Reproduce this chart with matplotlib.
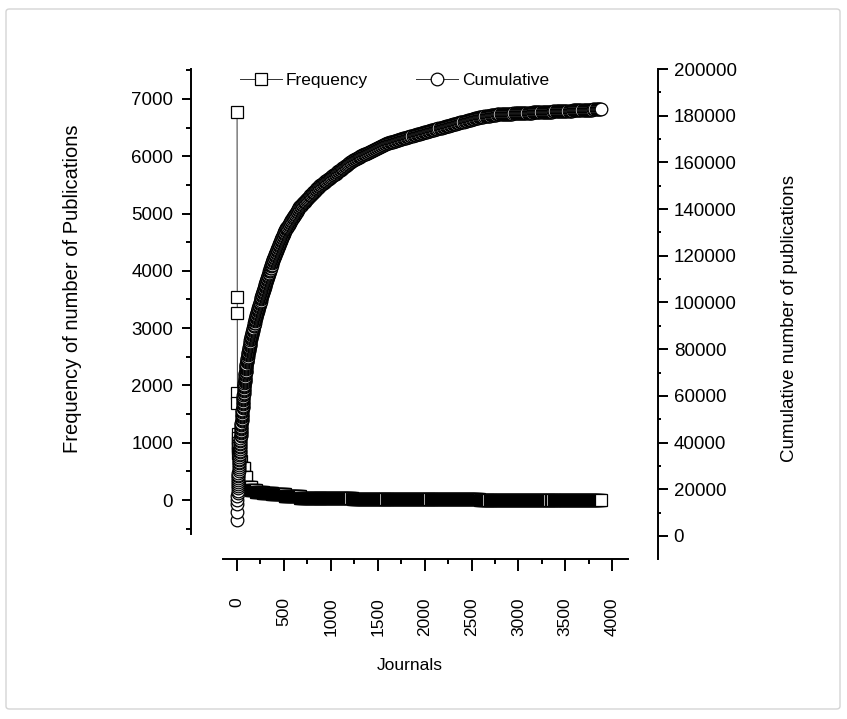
import numpy as np
import matplotlib
matplotlib.use('Agg')
import matplotlib.pyplot as plt
from matplotlib.ticker import MultipleLocator
from matplotlib.patches import FancyBboxPatch

plt.rcParams['font.family'] = ['Liberation Sans', 'DejaVu Sans']

# frequencies of the top journals, one value each
head_freq = [6780, 3550, 3260, 1860, 1700, 1150, 1080, 1000, 950, 900]
# rest of the ranking as (frequency level, number of journals at that level)
level_freq = [820, 680, 560, 400, 230, 170, 140, 130, 100, 65, 42, 31, 20, 12, 11, 6, 2]
level_counts = [10, 20, 35, 25, 50, 50, 80, 95, 135, 160, 213, 351, 362, 351, 638, 215, 1083]

frequency = np.concatenate([head_freq, np.repeat(level_freq, level_counts)])
journals = np.arange(1, len(frequency) + 1)
cumulative = np.cumsum(frequency)

W, H = 847, 719
fig = plt.figure(figsize=(W / 100, H / 100), dpi=100)


def box(x0, y0, x1, y1):
    return [x0 / W, 1 - y1 / H, (x1 - x0) / W, (y1 - y0) / H]


# light frame round the picture
fig.patches.append(FancyBboxPatch((6 / W, 10 / H), 834 / W, 700 / H,
                                  boxstyle='round,pad=0,rounding_size=0.004',
                                  transform=fig.transFigure, fill=False,
                                  edgecolor='#d4d4d4', linewidth=1))

ax_l = fig.add_axes(box(223, 69, 628, 534))
ax_r = fig.add_axes(box(223, 69, 628, 559), sharex=ax_l)
ax_r.patch.set_visible(False)

# symbols spaced evenly along the drawn curve, like the original plot
h1, = ax_l.plot(journals, frequency, color='#333333', lw=0.7, marker='s', ms=8.2,
                mfc='white', mec='black', mew=0.9, markevery=0.0016)
h2, = ax_r.plot(journals, cumulative, color='#333333', lw=0.7, marker='o', ms=9.1,
                mfc='white', mec='black', mew=0.9, markevery=0.0017)

ax_l.set_xlim(-149, 4168)
ax_l.set_ylim(-593, 7522)
ax_r.set_ylim(-9860, 200000)

# spines
for s in ['top', 'right', 'bottom']:
    ax_l.spines[s].set_visible(False)
ax_l.spines['left'].set_position(('outward', 23))
ax_l.spines['left'].set_linewidth(1.4)
for s in ['top', 'left']:
    ax_r.spines[s].set_visible(False)
ax_r.spines['right'].set_position(('outward', 21.6))
ax_r.spines['right'].set_linewidth(1.4)
ax_r.spines['bottom'].set_linewidth(1.4)

# left axis ticks
ax_l.set_yticks(np.arange(0, 7001, 1000))
ax_l.yaxis.set_minor_locator(MultipleLocator(500))
ax_l.tick_params(axis='y', which='major', direction='out', length=6.5, width=1.4,
                 labelsize=13.5, pad=6.5)
ax_l.tick_params(axis='y', which='minor', direction='out', length=3.5, width=1.4)
ax_l.tick_params(axis='x', which='both', bottom=False, labelbottom=False)

# right axis ticks
ax_r.yaxis.tick_right()
ax_r.set_yticks(np.arange(0, 200001, 20000))
ax_r.yaxis.set_minor_locator(MultipleLocator(10000))
ax_r.tick_params(axis='y', which='major', direction='out', length=7, width=1.4,
                 labelsize=13.5, pad=4.3)
ax_r.tick_params(axis='y', which='minor', direction='out', length=2.5, width=1.4)

# x axis ticks
ax_r.set_xticks(np.arange(0, 4001, 500))
ax_r.xaxis.set_minor_locator(MultipleLocator(250))
ax_r.tick_params(axis='x', which='major', direction='out', length=8.6, width=1.4,
                 labelsize=12.5, pad=19, labelrotation=90)
ax_r.tick_params(axis='x', which='minor', direction='out', length=3.6, width=1.4)

# axis titles
ax_l.set_ylabel('Frequency of number of Publications', fontsize=14.5, va='center', ha='center')
ax_l.yaxis.set_label_coords((72 - 223) / 405, (534 - 289) / 465)
ax_r.yaxis.set_label_position('right')
ax_r.set_ylabel('Cumulative number of publications', fontsize=13.5, rotation=90,
                va='center', ha='center')
ax_r.yaxis.set_label_coords((790 - 223) / 405, (559 - 318) / 490)
ax_r.set_xlabel('Journals', fontsize=12.5, va='center', ha='center')
ax_r.xaxis.set_label_coords((410 - 223) / 405, (559 - 665) / 490)

ax_r.legend([h1, h2], ['Frequency', 'Cumulative'], ncol=2, frameon=False,
            loc='center left', bbox_to_anchor=((240 - 223) / 405, (559 - 80) / 490),
            borderpad=0, borderaxespad=0, handlelength=2.4, handletextpad=0.25,
            columnspacing=2.75, fontsize=12.5)

fig.savefig('out.png', dpi=100)
